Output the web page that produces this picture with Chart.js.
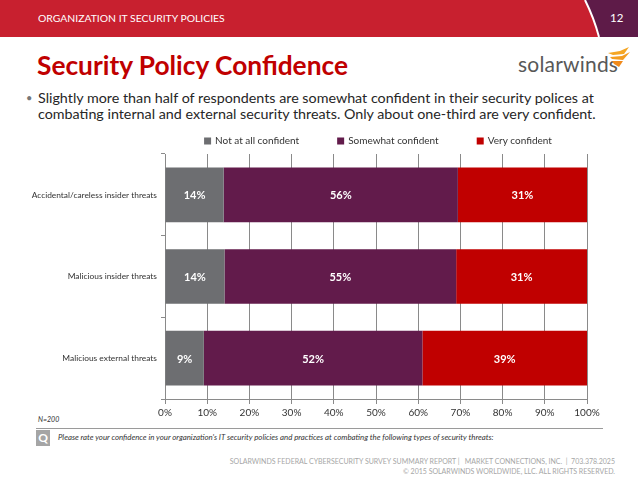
<!DOCTYPE html>
<html>
<head>
<meta charset="utf-8">
<script src="https://cdn.jsdelivr.net/npm/chart.js@4.4.1/dist/chart.umd.min.js"></script>
<style>
  html, body { margin:0; padding:0; background:#fff; }
  body { width:638px; height:479px; position:relative; overflow:hidden; font-family: Lato, "Open Sans", sans-serif; }
  .abs { position:absolute; white-space:nowrap; }
  #hdr { position:absolute; left:0; top:0; }
  #hdrText { left:38px; top:12px; color:#fff; font-size:10.4px; }
  #pageNum { left:610px; top:11px; color:#fff; font-size:11.5px; }
  #title { left:37px; top:49px; color:#C00000; font-size:26.3px; font-weight:bold; }
  #logo { left:518px; top:51px; color:#585858; font-size:21px; letter-spacing:0.2px; }
  #bullet { left:26px; top:89px; color:#262626; font-size:14.3px; }
  .bl { position:absolute; left:12px; white-space:nowrap; }
  #n200 { left:38px; top:415px; font-size:7px; font-style:italic; color:#333; }
  #qline { left:36px; top:428px; width:567px; height:1px; background:#9a9a9a; }
  #qbox { left:36px; top:430px; width:14px; height:16px; background:#a5a5a5; color:#fff; font-weight:bold; font-size:12px; text-align:center; line-height:16px; }
  #qtext { left:58px; top:432px; font-size:7.85px; font-style:italic; color:#333; }
  .foot { right:23px; font-size:7px; color:#a6a6a6; }
  canvas { position:absolute; left:0; top:0; }
</style>
</head>
<body>
<svg id="hdr" width="638" height="37">
  <rect x="0" y="0" width="638" height="37" fill="#C8202F"/>
  <path d="M585,0 Q594,18 599,37 L638,37 L638,0 Z" fill="#5E1B48"/>
  <path d="M585,0 Q594,18 599,37" stroke="#fff" stroke-width="2" fill="none"/>
</svg>
<div id="hdrText" class="abs">ORGANIZATION IT SECURITY POLICIES</div>
<div id="pageNum" class="abs">12</div>
<div id="title" class="abs">Security Policy Confidence</div>
<div id="logo" class="abs">solarwinds</div>
<svg class="abs" style="left:604px;top:47px" width="28" height="24">
  <path d="M4,6 L16,4 L25,0 L20,7 L9,8 Z" fill="#F5A623"/>
  <path d="M6,10 L18,9 L26,5 L19,13 L8,12 Z" fill="#F39C1F"/>
  <path d="M8,14 L19,14 L15,20 L10,17 Z" fill="#F08A1C"/>
</svg>
<div id="bullet" class="abs">
  <span style="position:absolute;left:0;top:0;font-size:11px;color:#777;line-height:18px">•</span>
  <span class="bl" style="top:0">Slightly more than half of respondents are somewhat confident in their security polices at</span>
  <span class="bl" style="top:16px">combating internal and external security threats. Only about one-third are very confident.</span>
</div>
<div id="n200" class="abs">N=200</div>
<div id="qline" class="abs"></div>
<div id="qbox" class="abs">Q</div>
<div id="qtext" class="abs">Please rate your confidence in your organization's IT security policies and practices at combating the following types of security threats:</div>
<div class="abs foot" style="top:457px">SOLARWINDS FEDERAL CYBERSECURITY SURVEY SUMMARY REPORT |&nbsp;&nbsp; MARKET CONNECTIONS, INC. &nbsp;|&nbsp; 703.378.2025</div>
<div class="abs foot" style="top:467px">© 2015 SOLARWINDS WORLDWIDE, LLC. ALL RIGHTS RESERVED.</div>

<canvas id="c" width="638" height="479"></canvas>

<script>
const categories = ['Accidental/careless insider threats', 'Malicious insider threats', 'Malicious external threats'];
const seriesNames = ['Not at all confident', 'Somewhat confident', 'Very confident'];
const notConfident = [13.9, 14.1, 9.2];
const somewhatConfident = [55.5, 54.9, 51.8];
const veryConfident = [30.6, 31.0, 39.0];
const xTicks = [0, 10, 20, 30, 40, 50, 60, 70, 80, 90, 100];

const colors = ['#6D6E71', '#621B4B', '#C00000'];
const values = [notConfident, somewhatConfident, veryConfident];
const FONT = 'Lato, "Open Sans", sans-serif';

const labelPlugin = {
  id: 'segLabels',
  afterDatasetsDraw(chart) {
    const ctx = chart.ctx;
    ctx.save();
    ctx.fillStyle = '#ffffff';
    ctx.font = 'bold 11px ' + FONT;
    ctx.textAlign = 'center';
    ctx.textBaseline = 'middle';
    chart.data.datasets.forEach((ds, di) => {
      const meta = chart.getDatasetMeta(di);
      meta.data.forEach((el, i) => {
        const p = el.getProps(['x', 'y', 'base'], true);
        ctx.fillText(Math.round(ds.data[i]) + '%', (p.x + p.base) / 2, p.y + 1);
      });
    });
    ctx.restore();
  }
};

// legend drawn from the datasets, centred over the plot area
const legendPlugin = {
  id: 'topLegend',
  afterDraw(chart) {
    const ctx = chart.ctx;
    const box = 7, gapText = 4, gapItem = 38, y = 141;
    ctx.save();
    ctx.font = '10px ' + FONT;
    ctx.textBaseline = 'middle';
    ctx.textAlign = 'left';
    const items = chart.data.datasets.map(ds => ({ text: ds.label, color: ds.backgroundColor, w: box + gapText + ctx.measureText(ds.label).width }));
    const total = items.reduce((a, it) => a + it.w, 0) + gapItem * (items.length - 1);
    const ca = chart.chartArea;
    let x = (ca.left + ca.right) / 2 - total / 2 + 2;
    items.forEach(it => {
      ctx.fillStyle = it.color;
      ctx.fillRect(x, y - box / 2, box, box);
      ctx.fillStyle = '#333';
      ctx.fillText(it.text, x + box + gapText, y);
      x += it.w + gapItem;
    });
    ctx.restore();
  }
};

new Chart(document.getElementById('c'), {
  type: 'bar',
  data: {
    labels: categories,
    datasets: seriesNames.map((n, i) => ({
      label: n,
      data: values[i],
      backgroundColor: colors[i],
      borderWidth: 0,
      barPercentage: 0.67,
      categoryPercentage: 1.0
    }))
  },
  plugins: [labelPlugin, legendPlugin],
  options: {
    indexAxis: 'y',
    responsive: false,
    animation: false,
    devicePixelRatio: 1,
    layout: { padding: { left: 0, right: 51, top: 154, bottom: 55 } },
    plugins: {
      legend: { display: false },
      tooltip: { enabled: false }
    },
    scales: {
      x: {
        stacked: true,
        min: 0, max: 100,
        afterFit: s => { s.height = 25; },
        afterBuildTicks: s => { s.ticks = xTicks.map(v => ({ value: v })); },
        grid: { color: '#8a8a8a', lineWidth: 1, tickLength: 5, drawOnChartArea: true },
        border: { color: '#8a8a8a', width: 1 },
        ticks: {
          color: '#333', padding: 3,
          font: { size: 10, family: FONT },
          callback: v => v + '%',
          maxRotation: 0
        }
      },
      y: {
        stacked: true,
        afterFit: s => { s.width = 165; },
        grid: { drawOnChartArea: false, drawTicks: true, tickLength: 4, color: '#8a8a8a', offset: true },
        border: { color: '#8a8a8a', width: 1 },
        ticks: {
          color: '#333', padding: 4,
          font: { size: 8.4, family: FONT }
        }
      }
    }
  }
});
</script>
</body>
</html>
